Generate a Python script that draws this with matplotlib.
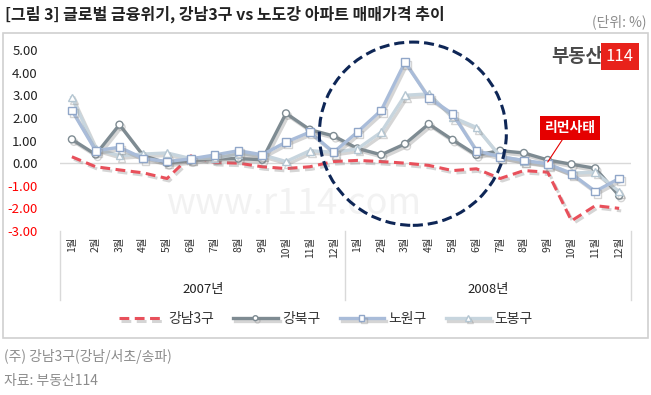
import numpy as np
import matplotlib
matplotlib.use("Agg")
import matplotlib.pyplot as plt
import matplotlib.patheffects as pe
from matplotlib.patches import Ellipse, Rectangle
from matplotlib.lines import Line2D

plt.rcParams['font.family'] = ['Noto Sans CJK KR', 'DejaVu Sans']

# -----------------------------
# data (monthly change, %)
# -----------------------------
years = ["2007년", "2008년"]
months = [f"{m}월" for m in range(1, 13)]

gangnam3 = [0.28, -0.16, -0.30, -0.43, -0.68, 0.32, 0.03, 0.00, -0.16, -0.24, -0.16, 0.07,
            0.12, 0.07, 0.00, -0.10, -0.33, -0.25, -0.68, -0.33, -0.40, -2.55, -1.88, -2.00]
gangbuk = [1.05, 0.38, 1.70, 0.33, 0.00, 0.12, 0.20, 0.20, 0.15, 2.20, 1.48, 1.20,
           0.65, 0.37, 0.85, 1.73, 1.03, 0.36, 0.55, 0.45, 0.14, -0.05, -0.23, -1.44]
nowon = [2.33, 0.55, 0.70, 0.21, 0.07, 0.19, 0.36, 0.55, 0.37, 0.93, 1.37, 0.48,
         1.37, 2.33, 4.46, 2.89, 2.18, 0.55, 0.28, 0.12, -0.03, -0.47, -1.25, -0.68]
dobong = [2.90, 0.63, 0.33, 0.40, 0.45, 0.20, 0.22, 0.40, 0.37, 0.07, 0.55, 0.48,
          0.63, 1.37, 3.00, 3.06, 2.03, 1.58, 0.30, 0.10, -0.05, -0.44, -0.40, -1.26]

series_names = ["강남3구", "강북구", "노원구", "도봉구"]
y_ticks = [5, 4, 3, 2, 1, 0, -1, -2, -3]

W, H = 651, 395
fig = plt.figure(figsize=(W / 100, H / 100), dpi=100)

# chart frame
fig.patches.append(Rectangle((3 / W, 1 - 338 / H), 645 / W, 305 / H, transform=fig.transFigure,
                             fill=False, edgecolor="#d0d0d0", lw=1.2))

ax = fig.add_axes([60 / W, 1 - 231 / H, 571 / W, 181 / H])
x = np.arange(len(gangnam3))

shadow = [pe.SimpleLineShadow(offset=(1.5, -1.8), shadow_color="#888888", alpha=0.35), pe.Normal()]

ax.plot(x, gangnam3, color="#e8505b", lw=2.2, ls=(0, (3.2, 1.8)), label=series_names[0],
        path_effects=shadow, zorder=3)
ax.plot(x, gangbuk, color="#7e8b92", lw=2.4, marker="o", ms=5, mfc="white", mec="#7e8b92",
        mew=1.0, label=series_names[1], path_effects=shadow, zorder=4)
ax.plot(x, nowon, color="#a9bcd9", lw=2.4, marker="s", ms=5.5, mfc="white", mec="#90a6c8",
        mew=1.0, label=series_names[2], path_effects=shadow, zorder=5)
ax.plot(x, dobong, color="#c7d5de", lw=2.4, marker="^", ms=5.5, mfc="white", mec="#b4c6d2",
        mew=1.0, label=series_names[3], path_effects=shadow, zorder=4)

ax.axhline(0, color="#d9d9d9", lw=1, zorder=1)
ax.set_xlim(-0.5, len(x) - 0.5)
ax.set_ylim(-3, 5)
for s in ax.spines.values():
    s.set_visible(False)

ax.set_yticks(y_ticks)
ax.set_yticklabels([f"{v:.2f}" for v in y_ticks], fontsize=9.5)
for lab, v in zip(ax.get_yticklabels(), y_ticks):
    lab.set_color("#ff0000" if v < 0 else "#222222")
ax.tick_params(axis="y", length=0, pad=16)

ax.set_xticks(x)
ax.set_xticklabels(months * 2, rotation=90, fontsize=7.5, color="#333333")
ax.tick_params(axis="x", length=0, pad=4)

# year group labels and separators
for xs in [-0.5, 11.5, 23.5]:
    ax.add_line(Line2D([xs, xs], [0, -69 / 181], transform=ax.get_xaxis_transform(),
                       color="#d9d9d9", lw=1, clip_on=False))
ax.text(5.5, -59 / 181, years[0], transform=ax.get_xaxis_transform(), ha="center", va="center",
        fontsize=9.5, color="#222222")
ax.text(17.5, -59 / 181, years[1], transform=ax.get_xaxis_transform(), ha="center", va="center",
        fontsize=9.5, color="#222222")

# watermark
ax.text(9.3, -1.8, "www.r114.com", fontsize=26, color="#f2f2f2", ha="center", va="center", zorder=0)

# dashed circle around 2008 spike
ax.add_patch(Ellipse((14.33, 1.3), 7.86, 8.1, fill=False, edgecolor="#0e2656", lw=2.2,
                     ls=(0, (3.3, 1.6)), clip_on=False, zorder=6))

# Lehman callout
ax.annotate("리먼사태", xy=(20, 0.05), xytext=(570 / W, 1 - 128 / H), textcoords="figure fraction",
            ha="center", va="center", fontsize=10, fontweight="bold", color="white",
            bbox=dict(boxstyle="square,pad=0.35", fc="#e50000", ec="none"),
            arrowprops=dict(arrowstyle="-", color="#e50000", lw=0.8, shrinkA=0, shrinkB=0),
            zorder=7)

# logo
fig.text(603 / W, 1 - 57 / H, "부동산", ha="right", va="center", fontsize=13.5, fontweight="bold",
         color="#4a4a4a")
fig.text(619.5 / W, 1 - 56.5 / H, "114", ha="center", va="center", fontsize=12, color="white",
         fontstretch="condensed",
         bbox=dict(boxstyle="square,pad=0.3", fc="#e8221b", ec="none"))

# legend
ax.legend(loc="center", bbox_to_anchor=(326 / W, 1 - 319 / H), bbox_transform=fig.transFigure,
          ncol=4, frameon=False, fontsize=10, handlelength=3.2, columnspacing=1.4,
          handletextpad=0.3, labelcolor="#333333", markerscale=0.7)

# title and notes
fig.text(5 / W, 1 - 14 / H, "[그림 3] 글로벌 금융위기, 강남3구 vs 노도강 아파트 매매가격 추이",
         ha="left", va="center", fontsize=11.5, fontweight="bold", color="#222222")
fig.text(646 / W, 1 - 22 / H, "(단위: %)", ha="right", va="center", fontsize=10, color="#8c8c8c")
fig.text(4 / W, 1 - 356 / H, "(주) 강남3구(강남/서초/송파)", ha="left", va="center", fontsize=10,
         color="#8c8c8c")
fig.text(4 / W, 1 - 381 / H, "자료: 부동산114", ha="left", va="center", fontsize=10, color="#8c8c8c")

fig.savefig("out.png", dpi=100, facecolor="white")
